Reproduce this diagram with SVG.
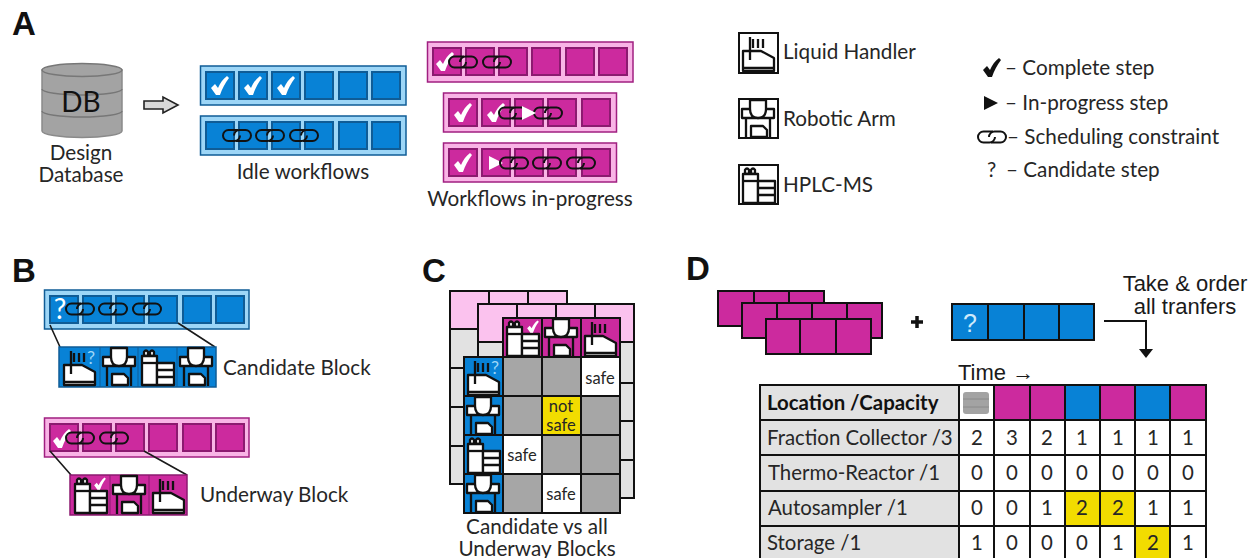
<svg xmlns="http://www.w3.org/2000/svg" width="1248" height="558" viewBox="0 0 1248 558">
<style>
text{font-family:"Lato","Open Sans","Liberation Sans",sans-serif;font-size:20.700px;fill:#262626}
.ar{font-family:"Liberation Sans",Arial,sans-serif;font-size:22px;fill:#1a1a1a}
.let{font-family:"Liberation Sans",Arial,sans-serif;font-size:33px;font-weight:700;fill:#111}
.c{text-anchor:middle}
.b{fill:#0882d6;stroke:#0f5c96;stroke-width:2}
.bo{fill:#9dd6f7;stroke:#0f5c96;stroke-width:1.5}
.m{fill:#cc2a9e;stroke:#8c1a70;stroke-width:2}
.mo{fill:#f9b4e6;stroke:#a01f80;stroke-width:1.5}
.k{stroke:#111;stroke-width:2}
.fb{fill:#0882d6}.fm{fill:#cc2a9e}.fp{fill:#fbc2ee}.fg{fill:#e2e2e2}.fd{fill:#a6a6a6}.fy{fill:#f2dc00}.fw{fill:#fff}
.w{fill:#fff;stroke:#111;stroke-width:2.300;stroke-linejoin:round}
.l{fill:none;stroke:#111;stroke-width:2}
.i{fill:none;stroke:#111;stroke-width:2.300}
.lead{fill:none;stroke:#1a1a1a;stroke-width:1.6}
.t{font-size:16.500px}
.tb{font-size:20.400px}
</style>
<defs>
<g id="chain" fill="none" stroke="#111" stroke-width="2">
<path d="M1 -5.500H-8.500A5.500 5.500 0 0 0 -8.500 5.500H-2.500A5.500 5.500 0 0 0 3 0"/>
<path d="M-1 5.500H8.500A5.500 5.500 0 0 0 8.500 -5.500H2.500A5.500 5.500 0 0 0 -3 0"/>
</g>
<path id="chk" d="M-9 2L-5 -2L-2 2C0 -3 3 -7 7 -10L9 -8C5 -3 2 3 0 9L-4 9Z"/>
<path id="tri" fill="#fff" d="M-7 -7L7 0L-7 7Z"/>
<g id="lh">
<path class="w" d="M4 38V18H22L35 25V38Z"/>
<path class="i" d="M11 4V27M14 6V15M19 6V15M24 6V15M4 35H35"/>
</g>
<g id="arm">
<path class="w" d="M3 10H35V19H3Z"/>
<path class="w" d="M11 1V10Q11 19 19 19Q27 19 27 10V1Z"/>
<path class="i" d="M7 19V39M31 19V39"/>
<path class="w" d="M12 38V27H24L28 31V38Z"/>
</g>
<g id="hp">
<path class="w" d="M6 9V5Q8 2 10 5V9ZM12 9V5Q14 2 16 5V9Z"/>
<path class="w" d="M4 9H19V38H4Z"/>
<path class="i" d="M4 16H19"/>
<path class="w" d="M19 16H36V38H19Z"/>
<path class="i" d="M19 23H36M19 30H36"/>
</g>
<g id="b6">
<rect class="b" x="6" y="6" width="28" height="27"/><rect class="b" x="39" y="6" width="28" height="27"/><rect class="b" x="72" y="6" width="28" height="27"/><rect class="b" x="105" y="6" width="28" height="27"/><rect class="b" x="139" y="6" width="28" height="27"/><rect class="b" x="172" y="6" width="28" height="27"/>
</g>
<g id="m6">
<rect class="m" x="6" y="6" width="28" height="27"/><rect class="m" x="39" y="6" width="28" height="27"/><rect class="m" x="72" y="6" width="28" height="27"/><rect class="m" x="105" y="6" width="28" height="27"/><rect class="m" x="139" y="6" width="28" height="27"/><rect class="m" x="172" y="6" width="28" height="27"/>
</g>
<g id="m5">
<rect class="m" x="6" y="6" width="28" height="27"/><rect class="m" x="39" y="6" width="28" height="27"/><rect class="m" x="72" y="6" width="28" height="27"/><rect class="m" x="105" y="6" width="28" height="27"/><rect class="m" x="139" y="6" width="28" height="27"/>
</g>
</defs>

<g id="panel-A">
<text class="let" x="12" y="35">A</text>
<g id="db">
<path d="M42 70V131A40 6.500 0 0 0 122 131V70Z" fill="#a3a3a3" stroke="#8a8a8a" stroke-width="1.5"/>
<ellipse cx="82" cy="70" rx="40" ry="6.500" fill="#a3a3a3" stroke="#777" stroke-width="1.5"/>
<path d="M42 89A40 6 0 0 0 122 89M42 111A40 6 0 0 0 122 111" fill="none" stroke="#777" stroke-width="1.5"/>
<text class="c" x="81" y="112" style="font-size:28px;fill:#111">DB</text>
<text class="c" x="81" y="160">Design</text>
<text class="c" x="81" y="182">Database</text>
</g>
<path id="db-arrow" d="M144 101H163V97L178 105L163 113V109H144Z" fill="#d9d9d9" stroke="#222" stroke-width="1.6"/>
<g id="idle-1">
<rect class="bo" x="200.500" y="66" width="205.500" height="39"/>
<use href="#b6" x="200" y="66"/>
<use href="#chk" fill="#fff" x="220" y="86"/><use href="#chk" fill="#fff" x="253" y="86"/><use href="#chk" fill="#fff" x="286" y="86"/>
</g>
<g id="idle-2">
<rect class="bo" x="200.500" y="116" width="205.500" height="39"/>
<use href="#b6" x="200" y="116"/>
<use href="#chain" x="237" y="135.500"/><use href="#chain" x="270" y="135.500"/><use href="#chain" x="304" y="135.500"/>
<text class="c" x="303" y="179">Idle workflows</text>
</g>
<g id="wip-1">
<rect class="mo" x="427.500" y="42" width="205.500" height="40"/>
<use href="#m6" x="427" y="42"/>
<use href="#chk" fill="#fff" x="445" y="62"/><use href="#chain" x="463" y="62"/><use href="#chain" x="497" y="62"/>
</g>
<g id="wip-2">
<rect class="mo" x="443.500" y="93" width="173" height="39"/>
<use href="#m5" x="443" y="93"/>
<use href="#chk" fill="#fff" x="463" y="113"/><use href="#chk" fill="#fff" x="496" y="113"/><use href="#chain" x="513" y="113"/><use href="#chain" x="548" y="113"/><use href="#tri" x="529" y="113"/>
</g>
<g id="wip-3">
<rect class="mo" x="443.500" y="143" width="173" height="39"/>
<use href="#m5" x="443" y="143"/>
<use href="#chk" fill="#fff" x="463" y="163"/><use href="#tri" x="496" y="163"/><use href="#chain" x="514" y="163"/><use href="#chain" x="547" y="163"/><use href="#chain" x="581" y="163"/>
<text class="c" x="530" y="206">Workflows in-progress</text>
</g>
<g id="legend-icons">
<g id="icon-lh"><rect x="739" y="33" width="39" height="40" fill="#fff" stroke="#111" stroke-width="2"/><use href="#lh" x="739" y="33"/><text x="783" y="59">Liquid Handler</text></g>
<g id="icon-arm"><rect x="739" y="99" width="39" height="39" fill="#fff" stroke="#111" stroke-width="2"/><use href="#arm" x="739" y="99"/><text x="783" y="126">Robotic Arm</text></g>
<g id="icon-hplc"><rect x="739" y="165" width="39" height="39" fill="#fff" stroke="#111" stroke-width="2"/><use href="#hp" x="739" y="165"/><text x="783" y="192">HPLC-MS</text></g>
</g>
<g id="legend-steps">
<use href="#chk" fill="#111" x="992" y="68"/>
<text x="1005" y="75">– Complete step</text>
<path fill="#111" d="M984 96L998 103L984 110Z"/>
<text x="1005" y="110">– In-progress step</text>
<use href="#chain" x="992" y="137"/>
<text x="1007" y="144">– Scheduling constraint</text>
<text x="987" y="177">?</text>
<text x="1006" y="177">– Candidate step</text>
</g>
</g>

<g id="panel-B">
<text class="let" x="12" y="282">B</text>
<g id="bar-candidate">
<rect class="bo" x="44.500" y="290" width="204.500" height="39"/>
<use href="#b6" x="44" y="290"/>
<use href="#chain" x="80" y="309"/><use href="#chain" x="113" y="309"/><use href="#chain" x="147" y="309"/>
<text class="c" x="60" y="319" style="font-size:28px;fill:#fff">?</text>
</g>
<path class="lead" d="M50 325L60 347M178 323L215 347"/>
<g id="candidate-block">
<rect class="fb" x="59" y="347" width="157" height="40" stroke="#0f5c96" stroke-width="1.500"/>
<path d="M100 347V387M138 347V387M177 347V387" stroke="#0f5c96" stroke-width="1"/>
<use href="#lh" x="60" y="347"/><use href="#arm" x="100" y="347"/><use href="#hp" x="138" y="347"/><use href="#arm" x="177" y="347"/>
<text class="c" x="91" y="364" style="font-size:18px;fill:#9dd6f7">?</text>
<text x="223" y="375">Candidate Block</text>
</g>
<g id="bar-underway">
<rect class="mo" x="44.500" y="418" width="204.500" height="39"/>
<use href="#m6" x="44" y="418"/>
<use href="#chk" fill="#fff" x="62" y="439"/><use href="#chain" x="80" y="438"/><use href="#chain" x="114" y="438"/>
</g>
<path class="lead" d="M50 451L71 475M144 451L187 475"/>
<g id="underway-block">
<rect class="fm" x="70" y="475" width="117" height="40" stroke="#8c1a70" stroke-width="1.500"/>
<path d="M110 475V515M149 475V515" stroke="#8c1a70" stroke-width="1"/>
<use href="#hp" x="71" y="475"/><use href="#arm" x="110" y="475"/><use href="#lh" x="149" y="475"/>
<use href="#chk" fill="#fff" transform="translate(100 484) scale(.65)"/>
<text x="200" y="502">Underway Block</text>
</g>
</g>

<g id="panel-C">
<text class="let" x="422" y="282">C</text>
<g id="layer-1">
<rect class="fp k" x="450" y="291" width="117" height="38"/>
<path class="l" d="M489 291V329M528 291V329"/>
<rect class="fg k" x="450" y="329" width="39" height="155"/>
<path class="l" d="M450 368H489M450 407H489M450 446H489"/>
</g>
<g id="layer-2">
<rect class="fp k" x="478" y="304" width="156" height="38"/>
<path class="l" d="M517 304V342M556 304V342M595 304V342"/>
<rect class="fg k" x="478" y="342" width="156" height="156"/>
<path class="l" d="M478 383H634M478 421H634M478 460H634"/>
</g>
<g id="front">
<rect class="fm k" x="503" y="318" width="117" height="39"/>
<rect class="fb k" x="464" y="357" width="39" height="156"/>
<rect class="fd k" x="503" y="357" width="117" height="156"/>
<rect class="fw k" x="581" y="357" width="39" height="39"/>
<rect class="fy k" x="542" y="396" width="39" height="39"/>
<rect class="fw k" x="503" y="435" width="39" height="39"/>
<rect class="fw k" x="542" y="474" width="39" height="39"/>
<path class="l" d="M503 396H620M503 435H620M503 474H620M542 357V513M581 357V513"/>
<path class="l" d="M464 396H503M464 435H503M464 474H503M542 318V357M581 318V357"/>
<use href="#hp" x="503" y="318"/><use href="#arm" x="542" y="318"/><use href="#lh" x="581" y="318"/>
<use href="#lh" x="464" y="357"/><use href="#arm" x="464" y="396"/><use href="#hp" x="464" y="435"/><use href="#arm" x="464" y="474"/>
<use href="#chk" fill="#fff" transform="translate(533 327) scale(.65)"/>
<text class="c" x="495" y="374" style="font-size:18px;fill:#9dd6f7">?</text>
<text class="c t" x="600" y="384">safe</text>
<text class="c t" x="561" y="412">not</text>
<text class="c t" x="561" y="431">safe</text>
<text class="c t" x="522" y="461">safe</text>
<text class="c t" x="561" y="500">safe</text>
</g>
<text class="c" x="537" y="534">Candidate vs all</text>
<text class="c" x="537" y="556">Underway Blocks</text>
</g>

<g id="panel-D">
<text class="let" x="686" y="280">D</text>
<g id="d-stack">
<rect class="fm k" x="718" y="291" width="106" height="35"/><path class="l" d="M754 291V326M789 291V326"/>
<rect class="fm k" x="742" y="303" width="140" height="35"/><path class="l" d="M777 303V338M812 303V338M847 303V338"/>
<rect class="fm k" x="766" y="319" width="105" height="35"/><path class="l" d="M800 319V354M836 319V354"/>
</g>
<path id="plus" d="M917 316V328M911 322H923" stroke="#111" stroke-width="3.500" fill="none"/>
<g id="d-candidate">
<rect class="fb k" x="952" y="304" width="142" height="36"/><path class="l" d="M988 304V340M1024 304V340M1059 304V340"/>
<text class="c" x="970" y="332" style="font-size:25px;fill:#cfeafb;font-family:'Liberation Sans',sans-serif">?</text>
</g>
<g id="connectors"><path class="l" d="M1104 321H1146V350"/><path fill="#111" d="M1139 349H1153L1146 358Z"/></g>
<text class="ar c" x="1185" y="291">Take &amp; order</text>
<text class="ar c" x="1185" y="314">all tranfers</text>
<text class="ar" x="958" y="380">Time →</text>
<g id="table">
<rect class="fg" x="760" y="385" width="199" height="173"/>
<rect class="fw" x="959" y="385" width="247" height="173"/>
<rect class="fm" x="994" y="385" width="71" height="35"/><rect class="fb" x="1065" y="385" width="35" height="35"/><rect class="fm" x="1100" y="385" width="35" height="35"/><rect class="fb" x="1135" y="385" width="35" height="35"/><rect class="fm" x="1170" y="385" width="36" height="35"/>
<rect class="fy" x="1065" y="491" width="70" height="35"/><rect class="fy" x="1135" y="526" width="35" height="32"/>
<rect x="963" y="392" width="26" height="22" rx="3" fill="#a3a3a3"/>
<path d="M963 399H989M963 407H989" stroke="#8a8a8a" stroke-width="1"/>
<path class="l" d="M760 385H1206M760 420H1206M760 455H1206M760 491H1206M760 526H1206M760 384V558M959 385V558M994 385V558M1030 385V558M1065 385V558M1100 385V558M1135 385V558M1170 385V558M1206 384V558"/>
<text class="tb" x="767" y="410" style="font-weight:700;fill:#111">Location /Capacity</text>
<text class="tb" x="767" y="445">Fraction Collector /3</text>
<text class="tb" x="768" y="480">Thermo-Reactor /1</text>
<text class="tb" x="768" y="515">Autosampler /1</text>
<text class="tb" x="767" y="550">Storage /1</text>
<g class="nums" text-anchor="middle">
<text class="tb" x="977" y="445">2</text><text class="tb" x="1012" y="445">3</text><text class="tb" x="1047" y="445">2</text><text class="tb" x="1082" y="445">1</text><text class="tb" x="1118" y="445">1</text><text class="tb" x="1153" y="445">1</text><text class="tb" x="1188" y="445">1</text>
<text class="tb" x="977" y="480">0</text><text class="tb" x="1012" y="480">0</text><text class="tb" x="1047" y="480">0</text><text class="tb" x="1082" y="480">0</text><text class="tb" x="1118" y="480">0</text><text class="tb" x="1153" y="480">0</text><text class="tb" x="1188" y="480">0</text>
<text class="tb" x="977" y="515">0</text><text class="tb" x="1012" y="515">0</text><text class="tb" x="1047" y="515">1</text><text class="tb" x="1082" y="515">2</text><text class="tb" x="1118" y="515">2</text><text class="tb" x="1153" y="515">1</text><text class="tb" x="1188" y="515">1</text>
<text class="tb" x="977" y="550">1</text><text class="tb" x="1012" y="550">0</text><text class="tb" x="1047" y="550">0</text><text class="tb" x="1082" y="550">0</text><text class="tb" x="1118" y="550">1</text><text class="tb" x="1153" y="550">2</text><text class="tb" x="1188" y="550">1</text>
</g>
</g>
</g>
</svg>
